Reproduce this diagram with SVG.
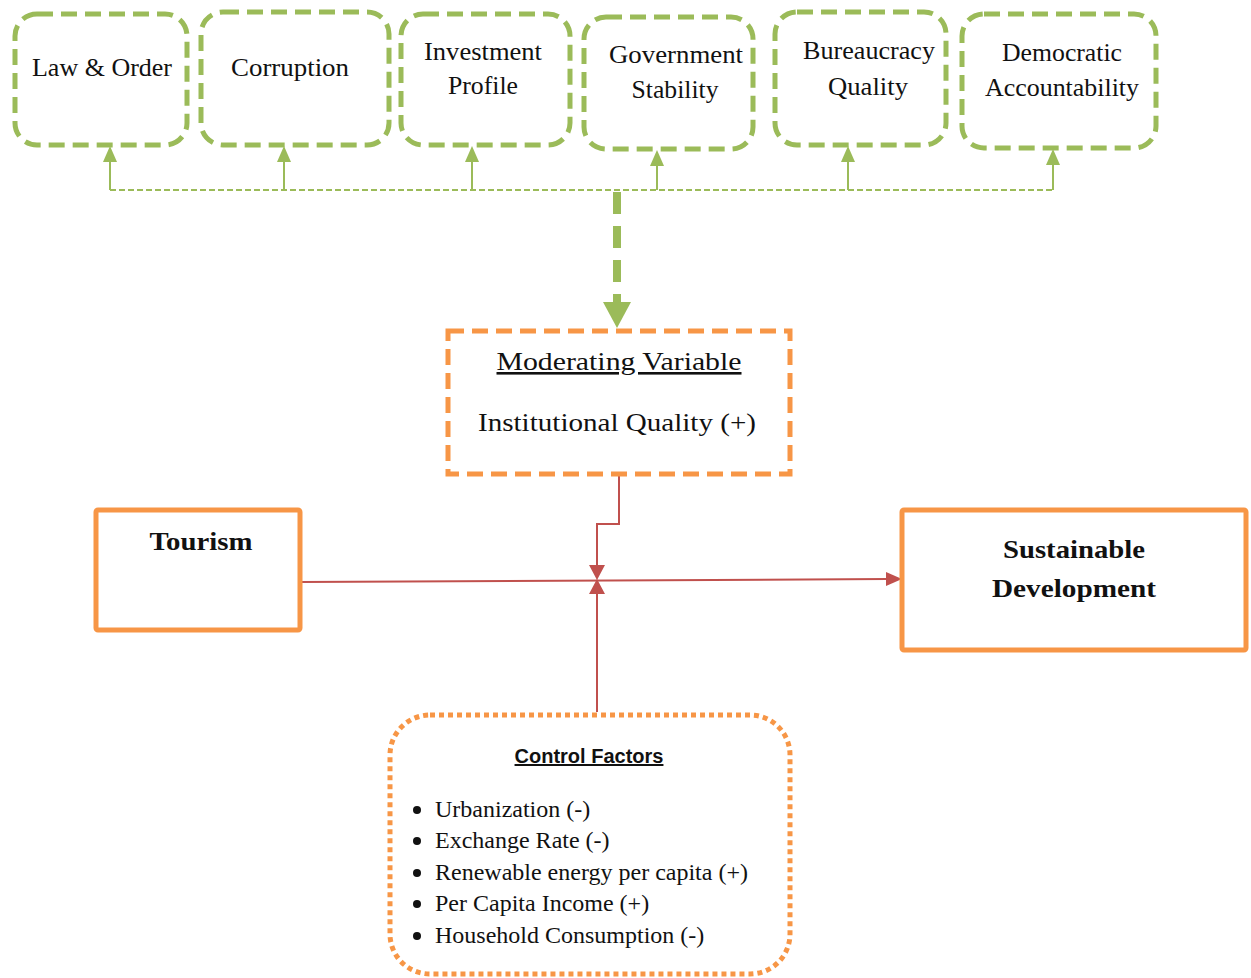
<svg xmlns="http://www.w3.org/2000/svg" width="1251" height="978" viewBox="0 0 1251 978">
<style>
.g{fill:#fff;stroke:#9BBB59;stroke-width:5;stroke-dasharray:16 8}
.t{font-family:"Liberation Serif","DejaVu Serif",serif;font-size:26px;fill:#111;text-anchor:middle}
.b{font-weight:bold;font-size:26px}
.o{fill:#fff;stroke:#F79646;stroke-width:5}
.li{font-family:"Liberation Serif",serif;font-size:24px;fill:#111}
.gl{stroke:#9BBB59;stroke-width:2;fill:none}
.rl{stroke:#C0504D;stroke-width:2;fill:none}
.ga{fill:#9BBB59}
.ra{fill:#C0504D}
</style>
<rect width="1251" height="978" fill="#fff"/>
<g id="connectors">
<path class="gl" d="M110,190 H1053" stroke-dasharray="6 3"/>
<path class="gl" d="M110,190 V160 M284,190 V160 M472,190 V160 M657,190 V164 M848,190 V160 M1053,190 V163"/>
<path class="ga" d="M103,162 L117,162 L110,146 Z M277,162 L291,162 L284,146 Z M465,162 L479,162 L472,146 Z M650,166 L664,166 L657,150 Z M841,162 L855,162 L848,146 Z M1046,165 L1060,165 L1053,149 Z"/>
<path d="M617,192 V303" stroke="#9BBB59" stroke-width="8" stroke-dasharray="22 12" fill="none"/>
<path class="ga" d="M603,302 L631,302 L617,328 Z"/>
<path class="rl" d="M301,582 L888,579"/>
<path class="ra" d="M886,572 L902,579 L886,586 Z"/>
<path class="rl" d="M619,474 V524 H597 V568"/>
<path class="ra" d="M589,565 L605,565 L597,580 Z"/>
<path class="rl" d="M597,712 V590"/>
<path class="ra" d="M589,594 L605,594 L597,579 Z"/>
</g>
<g id="law-order"><rect class="g" x="15" y="14" width="172" height="131" rx="22"/><text class="t" x="102" y="76" textLength="140" lengthAdjust="spacingAndGlyphs">Law &amp; Order</text></g>
<g id="corruption"><rect class="g" x="201" y="12" width="188" height="133" rx="22"/><text class="t" x="290" y="76" textLength="118" lengthAdjust="spacingAndGlyphs">Corruption</text></g>
<g id="investment-profile"><rect class="g" x="401" y="14" width="169" height="131" rx="22"/><text class="t" x="483" y="60" textLength="118" lengthAdjust="spacingAndGlyphs">Investment</text><text class="t" x="483" y="94" textLength="70" lengthAdjust="spacingAndGlyphs">Profile</text></g>
<g id="government-stability"><rect class="g" x="584" y="17" width="169" height="132" rx="22"/><text class="t" x="676" y="63" textLength="134" lengthAdjust="spacingAndGlyphs">Government</text><text class="t" x="675" y="98" textLength="87" lengthAdjust="spacingAndGlyphs">Stability</text></g>
<g id="bureaucracy-quality"><rect class="g" x="775" y="12" width="171" height="133" rx="22"/><text class="t" x="869" y="59" textLength="132" lengthAdjust="spacingAndGlyphs">Bureaucracy</text><text class="t" x="868" y="95" textLength="80" lengthAdjust="spacingAndGlyphs">Quality</text></g>
<g id="democratic-accountability"><rect class="g" x="962" y="14" width="194" height="134" rx="22"/><text class="t" x="1062" y="61" textLength="120" lengthAdjust="spacingAndGlyphs">Democratic</text><text class="t" x="1062" y="96" textLength="154" lengthAdjust="spacingAndGlyphs">Accountability</text></g>
<g id="moderating-variable"><rect class="o" x="448" y="331" width="342" height="143" stroke-dasharray="16 8"/><text class="t" x="619" y="370" font-size="27" text-decoration="underline" textLength="245" lengthAdjust="spacingAndGlyphs">Moderating Variable</text><text class="t" x="617" y="431" font-size="27" textLength="278" lengthAdjust="spacingAndGlyphs">Institutional Quality (+)</text></g>
<g id="tourism"><rect class="o" x="96" y="510" width="204" height="120" rx="2"/><text class="t b" x="201" y="550" textLength="103" lengthAdjust="spacingAndGlyphs">Tourism</text></g>
<g id="sustainable-development"><rect class="o" x="902" y="510" width="344" height="140" rx="2"/><text class="t b" x="1074" y="558" textLength="142" lengthAdjust="spacingAndGlyphs">Sustainable</text><text class="t b" x="1074" y="597" textLength="164" lengthAdjust="spacingAndGlyphs">Development</text></g>
<g id="control-factors"><rect class="o" x="390" y="715" width="400" height="259" rx="40" stroke-dasharray="5 4"/>
<text x="589" y="763" font-family="'Liberation Sans',Arial,sans-serif" font-weight="bold" font-size="20" text-anchor="middle" text-decoration="underline" fill="#111">Control Factors</text>
<g fill="#111"><circle cx="417" cy="810" r="4"/><circle cx="417" cy="841" r="4"/><circle cx="417" cy="873" r="4"/><circle cx="417" cy="904" r="4"/><circle cx="417" cy="936" r="4"/></g>
<text class="li" x="435" y="817">Urbanization (-)</text>
<text class="li" x="435" y="848">Exchange Rate (-)</text>
<text class="li" x="435" y="880">Renewable energy per capita (+)</text>
<text class="li" x="435" y="911">Per Capita Income (+)</text>
<text class="li" x="435" y="943">Household Consumption (-)</text>
</g>
</svg>
